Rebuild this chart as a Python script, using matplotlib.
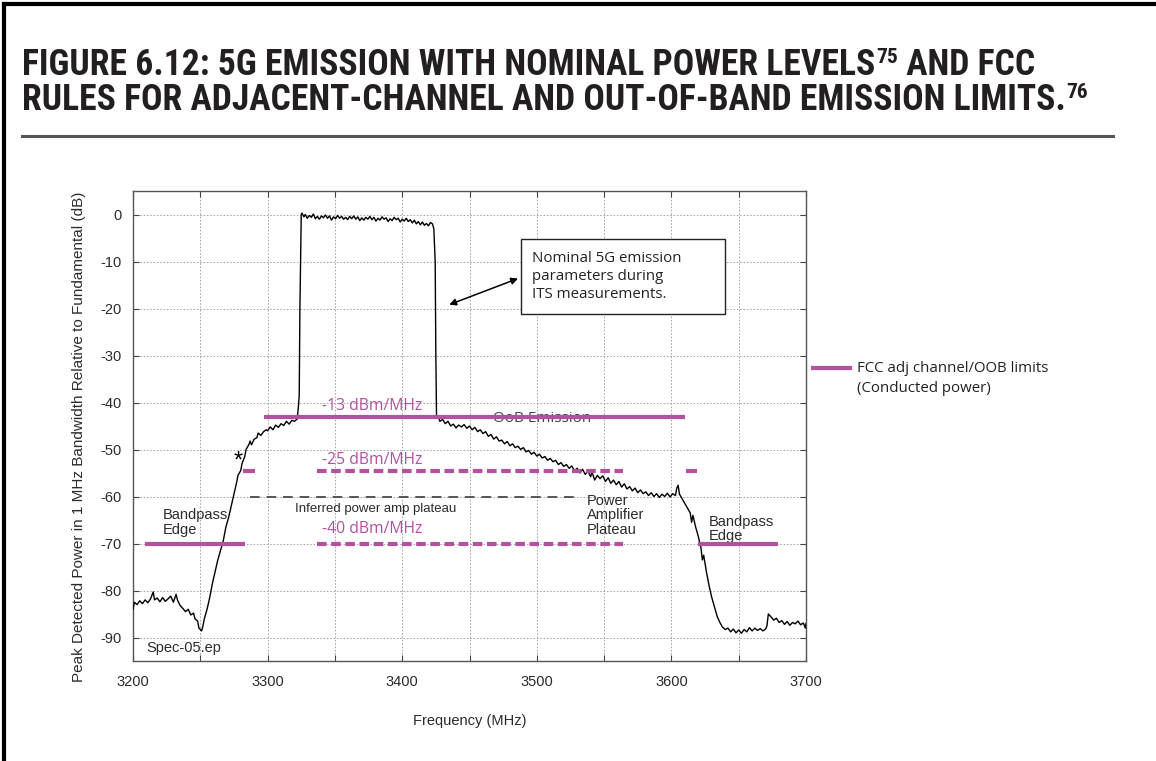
import matplotlib
matplotlib.use("Agg")
import matplotlib.pyplot as plt
from matplotlib.lines import Line2D
from matplotlib.patches import Rectangle
import matplotlib.ticker as ticker

plt.rcParams["axes.unicode_minus"] = False

# measured spectrum (MHz, dB relative to fundamental)
freq_mhz = [
    3200, 3201, 3203, 3205, 3207, 3209, 3211, 3213, 3215, 3216, 3218, 3220, 3222, 3224, 3226, 3228,
    3230, 3232, 3233, 3235, 3237, 3239, 3241, 3243, 3245, 3246, 3248, 3249, 3250, 3251, 3252, 3253,
    3255, 3257, 3259, 3261, 3263, 3265, 3267, 3269, 3271, 3273, 3275, 3277, 3278, 3280, 3281, 3283,
    3284, 3286, 3287, 3288, 3290, 3292, 3293, 3295, 3297, 3299, 3300, 3302, 3304, 3306, 3308, 3310,
    3312, 3314, 3316, 3318, 3320, 3322, 3323, 3323.5, 3324, 3325,
    3325.5, 3327, 3328, 3329.5, 3331, 3332.5, 3334, 3335.5, 3337, 3338.5, 3340, 3341.5, 3343, 3344.5,
    3346, 3347.5, 3349, 3350.5, 3352, 3353.5, 3355, 3356.5, 3358, 3359.5, 3361, 3362.5, 3364, 3365.5,
    3367, 3368.5, 3370, 3371.5, 3373, 3374.5, 3376, 3377.5, 3379, 3380.5, 3382, 3383.5, 3385, 3386.5,
    3388, 3389.5, 3391, 3392.5, 3394, 3395.5, 3397, 3398.5, 3400, 3401.5, 3403, 3404.5, 3406, 3407.5,
    3409, 3410.5, 3412, 3413.5, 3415, 3416.5, 3418, 3419.5, 3421, 3422.5, 3423.5, 3424.5, 3425, 3425.5,
    3427, 3428, 3430, 3432, 3434, 3436, 3438, 3440, 3442, 3444, 3446, 3448, 3450, 3452, 3454, 3456,
    3458, 3460, 3462, 3464, 3466, 3468, 3470, 3472, 3474, 3476, 3478, 3480, 3482, 3484, 3486, 3488,
    3490, 3492, 3494, 3496, 3498, 3500, 3502, 3504, 3506, 3508, 3510, 3512, 3514, 3516, 3518, 3520,
    3522, 3524, 3526, 3528, 3530, 3532, 3534, 3536, 3538, 3540, 3541, 3543, 3545, 3547, 3549, 3551,
    3553, 3555, 3557, 3559, 3561, 3563, 3565, 3567, 3569, 3571, 3573, 3575, 3577, 3579, 3581, 3583,
    3585, 3587, 3589, 3591, 3593, 3595, 3597, 3599, 3601, 3603, 3604, 3605, 3606, 3608, 3610, 3612,
    3614, 3615, 3616, 3618, 3620, 3622, 3623, 3624, 3626, 3628, 3630, 3632, 3634, 3636, 3638, 3640,
    3642, 3644, 3646, 3648, 3650, 3652, 3654, 3656, 3658, 3660, 3662, 3664, 3666, 3668, 3670, 3671,
    3672, 3674, 3676, 3678, 3680, 3682, 3684, 3686, 3688, 3690, 3692, 3694, 3696, 3698, 3699.5, 3700,
]
level_db = [
    -84.0, -82.5, -83.0, -82.2, -82.8, -82.0, -82.6, -81.8, -80.3, -82.0, -81.6, -82.4, -81.5, -82.3, -81.8, -81.2,
    -82.5, -80.8, -82.0, -83.2, -83.8, -84.5, -84.0, -85.2, -84.8, -86.0, -86.5, -88.0, -88.3, -88.6, -87.5, -86.0,
    -84.0, -81.5, -78.5, -76.0, -73.5, -71.5, -69.5, -66.5, -64.5, -62.0, -59.5, -57.0, -55.5, -54.5, -53.0, -51.5,
    -50.0, -49.0, -48.2, -49.0, -47.8, -47.5, -46.5, -47.0, -46.2, -45.8, -46.0, -45.2, -45.8, -44.8, -45.3, -44.5,
    -44.9, -44.0, -44.6, -43.8, -44.0, -43.5, -40.5, -38.5, -20.0, 0.0,
    0.3, -0.5, 0.0, -0.8, -0.2, -0.6, 0.1, -0.9, -0.4, -1.0, -0.3, -0.7, -0.1, -0.8,
    -0.3, -1.2, -0.5, -0.9, -0.2, -0.8, -0.4, -1.0, -0.6, -1.1, -0.4, -0.9, -0.3, -1.0,
    -0.5, -1.3, -0.7, -1.2, -0.6, -1.0, -0.4, -1.1, -0.6, -1.4, -0.8, -1.2, -0.5, -1.0,
    -0.7, -1.5, -0.9, -1.3, -0.6, -1.1, -0.8, -1.6, -1.0, -1.4, -0.8, -1.5, -1.1, -1.8,
    -1.2, -2.0, -1.5, -2.2, -1.6, -2.3, -1.9, -2.4, -1.7, -2.0, -3.0, -10.0, -30.0, -43.0,
    -43.2, -44.0, -43.6, -44.5, -44.0, -45.0, -44.6, -45.4, -44.8, -45.2, -44.7, -45.5, -45.0, -45.8, -45.3, -46.2,
    -45.8, -46.6, -46.2, -47.2, -46.8, -47.8, -47.3, -48.2, -48.0, -48.8, -48.3, -49.2, -48.8, -49.6, -49.3, -50.0,
    -49.6, -50.5, -50.2, -51.0, -50.6, -51.4, -51.0, -51.8, -51.5, -52.3, -51.9, -52.6, -52.3, -53.2, -52.8, -53.6,
    -53.2, -54.0, -53.5, -54.5, -54.0, -55.0, -54.2, -55.3, -54.6, -55.8, -54.8, -56.5, -55.5, -56.2, -55.6, -56.8,
    -56.0, -57.2, -56.5, -57.5, -56.8, -58.0, -57.3, -58.4, -57.9, -58.8, -58.2, -59.2, -58.6, -59.4, -59.0, -59.8,
    -59.2, -60.0, -59.4, -60.2, -59.5, -60.0, -59.3, -60.1, -59.4, -59.8, -58.2, -57.6, -59.5, -60.5, -61.5, -62.5,
    -63.5, -65.5, -64.0, -66.5, -68.5, -71.0, -73.5, -72.5, -76.0, -79.0, -81.5, -83.5, -85.5, -86.8, -87.8, -88.3,
    -88.0, -88.8, -88.2, -89.0, -88.4, -89.1, -88.3, -88.8, -87.9, -88.6, -88.0, -88.5, -88.1, -88.6, -88.2, -87.5,
    -85.0, -85.6, -86.3, -85.9, -86.8, -86.4, -87.2, -86.6, -87.4, -86.8, -87.1, -86.5, -87.3, -86.9, -88.0, -87.0,
]

# FCC limit segments: (start MHz, stop MHz)
oob_level = -43.0
oob_span = (3297, 3610)
adj25_level = -54.5
adj25_solid = [(3282, 3291), (3611, 3619)]
adj25_dashed = (3337, 3564)
adj40_level = -70.0
adj40_solid = [(3209, 3283), (3620, 3679)]
adj40_dashed = (3337, 3564)
plateau_level = -60.0
plateau_span = (3287, 3530)

MAGENTA = "#b3519f"
DARK = "#2b2b2b"
BODY = ["Open Sans", "DejaVu Sans"]
HELV = ["Liberation Sans", "DejaVu Sans"]

fig = plt.figure(figsize=(11.56, 7.61), dpi=100)
ax = fig.add_axes([133 / 1156, 1 - 661 / 761, 673 / 1156, 470 / 761])

ax.plot(freq_mhz, level_db, color="black", lw=1.0, zorder=4)

# limit lines
ax.hlines(oob_level, *oob_span, color=MAGENTA, lw=3, zorder=5)
for a, b in adj25_solid:
    ax.hlines(adj25_level, a, b, color=MAGENTA, lw=3, zorder=5)
ax.plot(adj25_dashed, [adj25_level] * 2, color=MAGENTA, lw=3, ls=(0, (2.3, 1.1)), zorder=5)
for a, b in adj40_solid:
    ax.hlines(adj40_level, a, b, color=MAGENTA, lw=3, zorder=5)
ax.plot(adj40_dashed, [adj40_level] * 2, color=MAGENTA, lw=3, ls=(0, (2.3, 1.1)), zorder=5)
ax.plot(plateau_span, [plateau_level] * 2, color="#555555", lw=1.4, ls=(0, (5, 3.5)), zorder=3)

# labels inside the plot
ax.text(3378, -40.7, "-13 dBm/MHz", color=MAGENTA, fontsize=11.3, family=BODY, ha="center", va="center", zorder=3)
ax.text(3378, -52.2, "-25 dBm/MHz", color=MAGENTA, fontsize=11.3, family=BODY, ha="center", va="center", zorder=3)
ax.text(3378, -66.9, "-40 dBm/MHz", color=MAGENTA, fontsize=11.3, family=BODY, ha="center", va="center", zorder=3)
ax.text(3504, -43.3, "OoB Emission", color="#444444", fontsize=11, family=BODY, ha="center", va="center", zorder=4)
ax.text(3380, -62.6, "Inferred power amp plateau", color=DARK, fontsize=9.5, family=HELV, ha="center", va="center")
ax.text(3222, -65.5, "Bandpass\nEdge", color=DARK, fontsize=10.5, family=HELV, ha="left", va="center", linespacing=1.05)
ax.text(3537, -64.0, "Power\nAmplifier\nPlateau", color=DARK, fontsize=10.5, family=HELV, ha="left", va="center", linespacing=1.05)
ax.text(3627.5, -66.9, "Bandpass\nEdge", color=DARK, fontsize=10.5, family=HELV, ha="left", va="center", linespacing=1.05)
ax.text(3210, -92.3, "Spec-05.ep", color=DARK, fontsize=10.5, family=HELV, ha="left", va="center")
ax.text(3278, -52.6, "*", color="black", fontsize=17, family=HELV, ha="center", va="center")

# callout box with double arrow
ax.add_patch(Rectangle((3488.5, -21.1), 151, 15.8, facecolor="white", edgecolor="#222222", lw=1.0, zorder=6))
ax.text(3496.5, -13.2, "Nominal 5G emission\nparameters during\nITS measurements.", fontsize=10.8, family=BODY,
        color="#222222", ha="left", va="center", linespacing=1.25, zorder=7)
ax.annotate("", xy=(3433, -19.4), xytext=(3488, -13.4),
            arrowprops=dict(arrowstyle="<|-|>", color="black", lw=1.1, mutation_scale=10), zorder=7)

# axes styling
ax.set_xlim(3200, 3700)
ax.set_ylim(-95, 5)
ax.xaxis.set_major_locator(ticker.MultipleLocator(50))
ax.xaxis.set_major_formatter(ticker.FuncFormatter(lambda v, _: f"{int(v)}" if int(v) % 100 == 0 else ""))
ax.yaxis.set_major_locator(ticker.MultipleLocator(10))
ax.tick_params(direction="in", top=True, right=True, length=4, width=0.8, color="#444444",
               labelsize=10.5, labelcolor=DARK)
ax.tick_params(axis="x", pad=10)
ax.tick_params(axis="y", pad=8)
for lab in ax.get_xticklabels() + ax.get_yticklabels():
    lab.set_family(HELV)
ax.grid(True, color="#9a9a9a", lw=0.6, ls=(0, (2, 2)))
for s in ax.spines.values():
    s.set_color("#555555")
    s.set_linewidth(1.0)

ax.set_xlabel("Frequency (MHz)", fontsize=10.5, family=HELV, color=DARK)
ax.xaxis.set_label_coords(0.501, -0.112)
ax.set_ylabel("Peak Detected Power in 1 MHz Bandwidth Relative to Fundamental (dB)", fontsize=11,
              family=HELV, color=DARK)
ax.yaxis.set_label_coords(-0.070, 0.477)

# legend on the right
fig.add_artist(Line2D([813 / 1156, 850 / 1156], [1 - 368 / 761] * 2, color=MAGENTA, lw=3))
fig.text(857 / 1156, 1 - 368 / 761, "FCC adj channel/OOB limits", fontsize=10.8, family=BODY,
         color="#222222", va="center")
fig.text(857 / 1156, 1 - 389 / 761, "(Conducted power)", fontsize=10.8, family=BODY,
         color="#222222", va="center")

# title block, condensed bold where available
TITLE = ["Roboto Condensed", "Noto Sans Condensed", "Liberation Sans Narrow", "Roboto", "DejaVu Sans"]
tsize = 24
tkw = dict(weight="bold", family=TITLE, stretch="condensed", color="#231f20")
t1 = fig.text(22 / 1156, 1 - 75 / 761, "FIGURE 6.12: 5G EMISSION WITH NOMINAL POWER LEVELS",
              fontsize=tsize, va="baseline", **tkw)
sup1 = ax.annotate("75", xy=(1, 1), xycoords=t1, xytext=(0.5, -1), textcoords="offset points",
                   fontsize=tsize * 0.6, va="top", ha="left", annotation_clip=False, **tkw)
tail1 = ax.annotate(" AND FCC", xy=(1, 0), xycoords=(sup1, t1), fontsize=tsize, va="bottom", ha="left",
                    annotation_clip=False, **tkw)
t2 = fig.text(22 / 1156, 1 - 110 / 761, "RULES FOR ADJACENT-CHANNEL AND OUT-OF-BAND EMISSION LIMITS.",
              fontsize=tsize, va="baseline", **tkw)
sup2 = ax.annotate("76", xy=(1, 1), xycoords=t2, xytext=(0.5, -1), textcoords="offset points",
                   fontsize=tsize * 0.6, va="top", ha="left", annotation_clip=False, **tkw)

# scale the title so its second line ends at the right place
fig.canvas.draw()
renderer = fig.canvas.get_renderer()
right = sup2.get_window_extent(renderer).x1
scale = (1090 - 22) / (right - 22)
for t in (t1, sup1, tail1, t2, sup2):
    t.set_fontsize(t.get_fontsize() * scale)

fig.add_artist(Line2D([22 / 1156, 1113 / 1156], [1 - 136 / 761] * 2, color="#555555", lw=2.2))

# page frame
fig.add_artist(Line2D([4 / 1156, 4 / 1156], [0, 1 - 4 / 761], color="black", lw=3))
fig.add_artist(Line2D([4 / 1156, 1], [1 - 4 / 761] * 2, color="black", lw=3))

fig.savefig("out.png", dpi=100)
